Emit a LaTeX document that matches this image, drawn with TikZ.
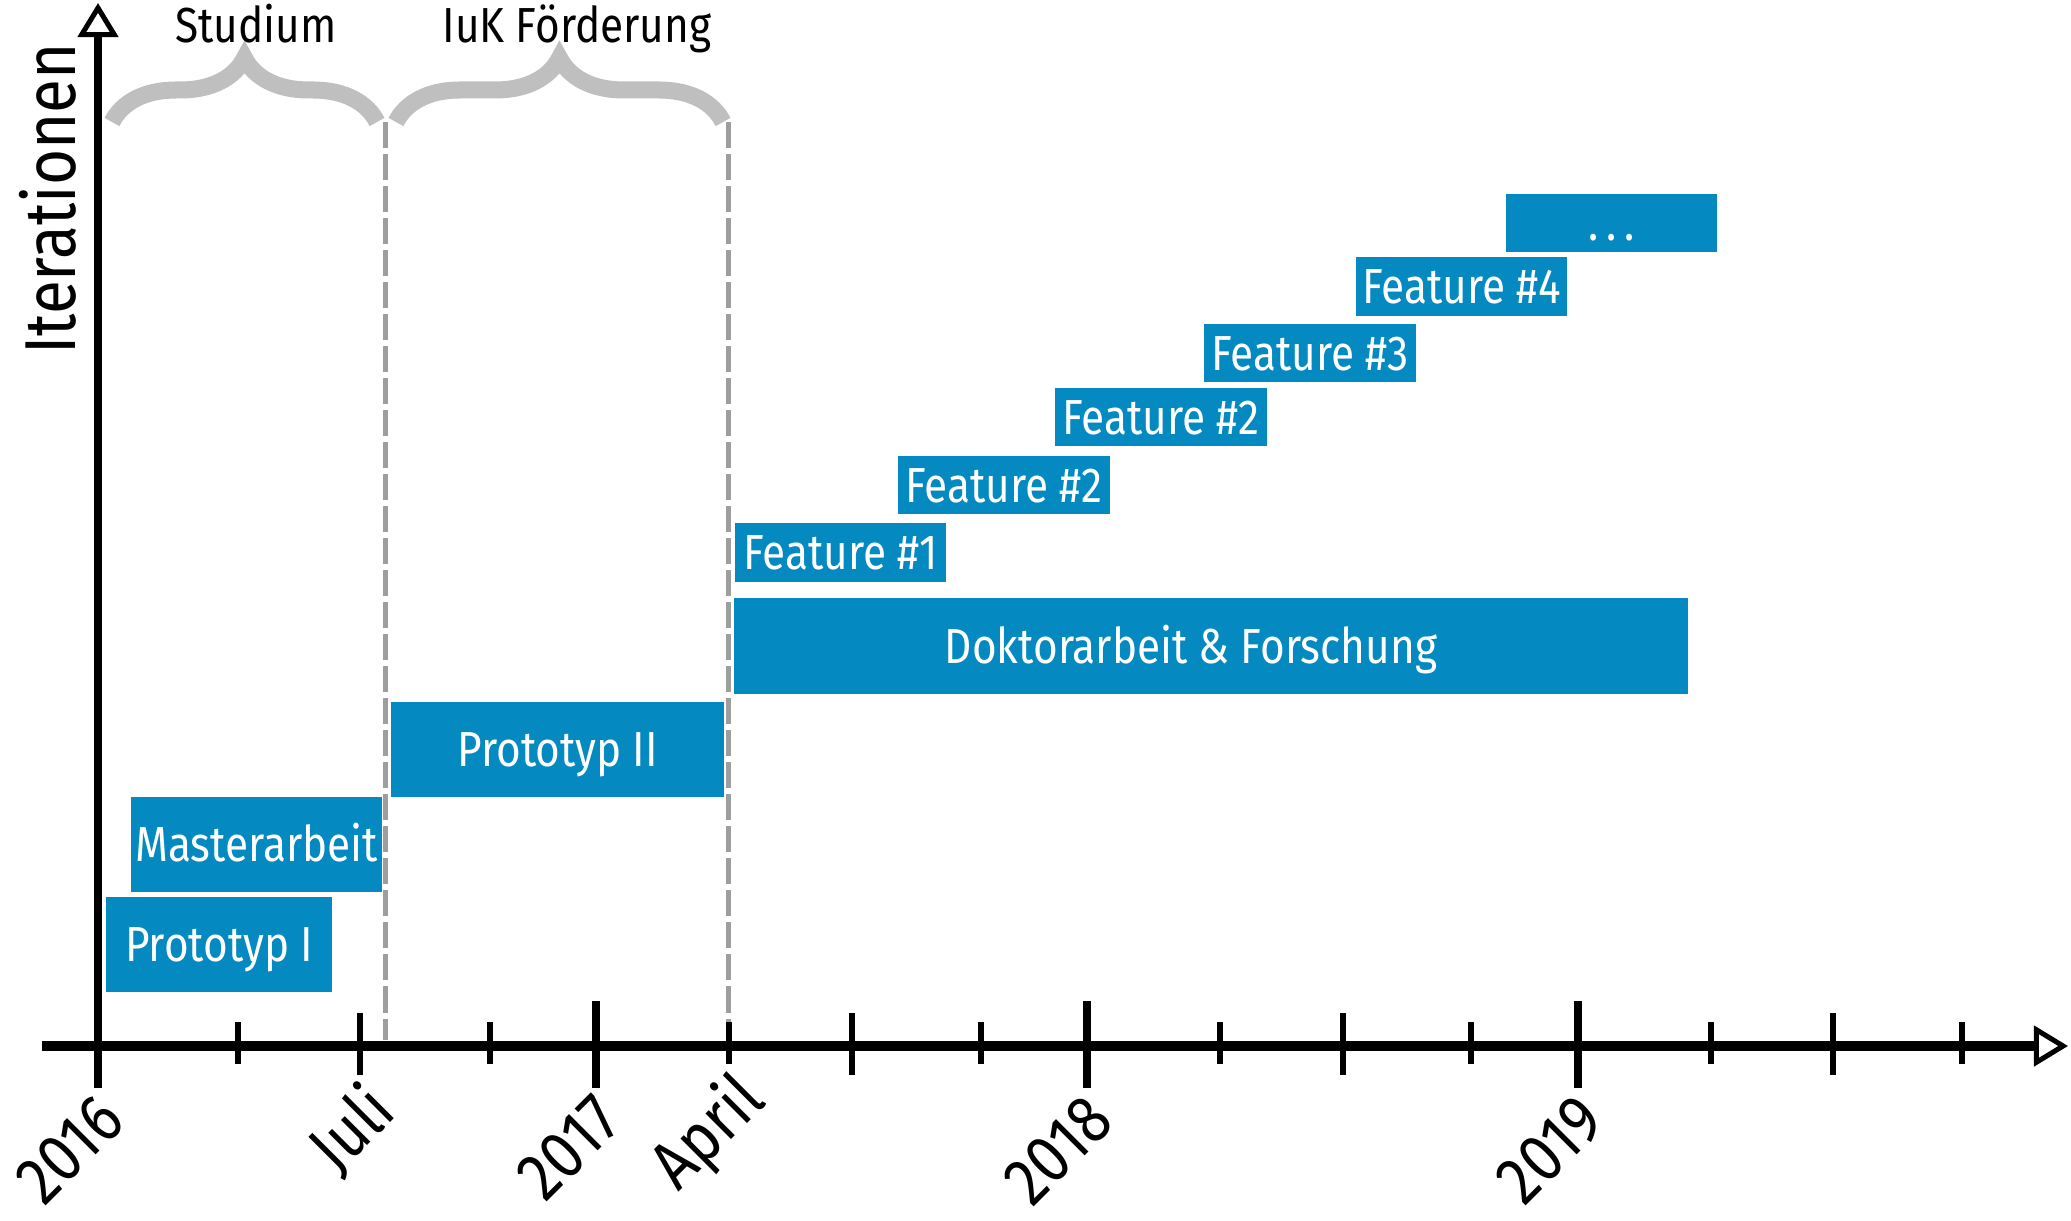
\documentclass[tikz,border=0pt]{standalone}
\usepackage{fontspec}
\setmainfont{Fira Sans}[FakeStretch=0.86]
\usepackage{tikz}
\usetikzlibrary{arrows.meta,decorations.pathreplacing}
\definecolor{boxblue}{RGB}{4,137,192}
\definecolor{bracegray}{RGB}{191,191,191}
\definecolor{dashgray}{RGB}{158,158,158}

\begin{document}
\begin{tikzpicture}[x=0.01cm,y=-0.01cm,
  bar/.style={fill=boxblue,text=white,font=\fontsize{14}{16}\selectfont,inner sep=0pt,
    text height=0.34cm,text depth=0pt,minimum height=0.95cm},
  featbar/.style={bar,minimum height=0.58cm,minimum width=2.11cm},
  biglabel/.style={font=\fontsize{20.5}{24}\selectfont,inner sep=0pt,text height=0.5cm,text depth=0pt},
  smalllabel/.style={font=\fontsize{14}{16}\selectfont,inner sep=0pt},
  yearlabel/.style={biglabel,font=\fontsize{19.5}{23}\selectfont,text height=0.47cm,rotate=45,anchor=north east},
  bracestyle/.style={draw=bracegray,line width=0.17cm,decorate,decoration={brace,amplitude=0.64cm}},
  dashline/.style={draw=dashgray,line width=0.05cm,dash pattern=on 0.26cm off 0.06cm},
  axisarrow/.style={-{Triangle[open,length=0.34cm,width=0.4cm,line width=0.05cm]}}]
  \useasboundingbox (0,0) rectangle (2071,1220);

  % phases
  \draw[dashline] (385,122) -- (385,1040);
  \draw[dashline] (728,122) -- (728,1040);
  \draw[bracestyle] (112,122) -- (377,122);
  \draw[bracestyle] (396,122) -- (723,122);
  \node[smalllabel,anchor=base] (lblStudium) at (256,42) {Studium};
  \node[smalllabel,anchor=base] (lblIuK) at (577,42) {IuK Förderung};

  % iterations
  \node[bar,minimum width=2.26cm] (proto1) at (219,944.5) {Prototyp I};
  \node[bar,minimum width=2.51cm] (master) at (256.5,844.5) {Masterarbeit};
  \node[bar,minimum width=3.33cm] (proto2) at (557.5,749.5) {Prototyp II};
  \node[bar,minimum width=9.54cm] (doktor) at (1211,646) {Doktorarbeit \& Forschung\kern0.4cm};
  \node[featbar] (feat1) at (840.5,552.5) {Feature \#1};
  \node[featbar] (feat2) at (1004,485) {Feature \#2};
  \node[featbar] (feat2b) at (1161,417) {Feature \#2};
  \node[featbar] (feat3) at (1310,353) {Feature \#3};
  \node[featbar] (feat4) at (1461.5,286.5) {Feature \#4};
  \node[featbar] (more) at (1611.5,223) {.\,.\,.};

  % axes
  \coordinate (origin) at (98,1046);
  \coordinate (xstart) at (42,1046);
  \coordinate (xtip) at (2068,1046);
  \coordinate (ytip) at (98,3);
  \draw[line width=0.1cm,axisarrow] (xstart) -- (xtip);
  \draw[line width=0.07cm,axisarrow] (origin) -- (ytip);
  \node[biglabel,rotate=90,anchor=base] (ylabel) at (75,199) {Iterationen};

  \foreach \x in {98,596,1087,1578}
    \draw[line width=0.085cm] (\x,1001) -- (\x,1088);
  \foreach \x in {360,852,1343,1833}
    \draw[line width=0.065cm] (\x,1013) -- (\x,1075);
  \foreach \x in {238,490,729,981,1220,1471,1711,1962}
    \draw[line width=0.065cm] (\x,1022) -- (\x,1064);

  \node[yearlabel] (y2016) at (94,1090) {2016};
  \node[yearlabel] (juli) at (365,1080) {Juli};
  \node[yearlabel] (y2017) at (592,1090) {2017};
  \node[yearlabel] (april) at (734,1069) {April};
  \node[yearlabel] (y2018) at (1083,1090) {2018};
  \node[yearlabel] (y2019) at (1574,1090) {2019};
\end{tikzpicture}
\end{document}
